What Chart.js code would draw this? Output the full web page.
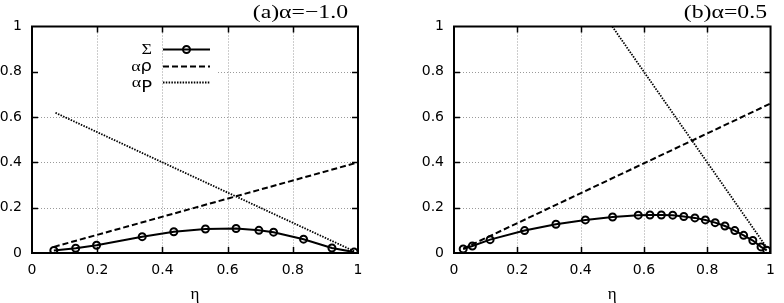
<!DOCTYPE html>
<html>
<head>
<meta charset="utf-8">
<script src="https://cdn.jsdelivr.net/npm/chart.js@4.4.1/dist/chart.umd.min.js"></script>
<style>
html, body { margin: 0; padding: 0; background: #fff; }
#wrap { position: relative; width: 784px; height: 303px; }
.box { position: absolute; top: 0; width: 392px; height: 303px; }
</style>
</head>
<body>
<div id="wrap">
  <div class="box" style="left:0"><canvas id="chartA" width="392" height="303"></canvas></div>
  <div class="box" style="left:392px"><canvas id="chartB" width="392" height="303"></canvas></div>
</div>
<script>
const xTicks = [0, 0.2, 0.4, 0.6, 0.8, 1];
const xTickLabels = ['0', '0.2', '0.4', '0.6', '0.8', '1'];
const yTicks = [0, 0.2, 0.4, 0.6, 0.8, 1];
const yTickLabels = ['0', '0.2', '0.4', '0.6', '0.8', '1'];

// (a) alpha = -1.0
const etaA = [0.067, 0.134, 0.198, 0.338, 0.435, 0.532, 0.626, 0.696, 0.741, 0.833, 0.920, 0.988];
const sigmaA = [0.011, 0.021, 0.034, 0.072, 0.094, 0.106, 0.108, 0.100, 0.092, 0.061, 0.022, 0.004];
const rhoEtaA = [0.067, 1];
const rhoA = [0.027, 0.40];
const pEtaA = [0.072, 0.988];
const pA = [0.619, 0.008];

// (b) alpha = 0.5
const etaB = [0.029, 0.058, 0.114, 0.223, 0.322, 0.415, 0.501, 0.582, 0.619, 0.655, 0.691,
              0.726, 0.761, 0.794, 0.825, 0.856, 0.887, 0.915, 0.944, 0.970, 0.988];
const sigmaB = [0.018, 0.031, 0.059, 0.099, 0.127, 0.146, 0.159, 0.167, 0.168, 0.168, 0.167,
                0.161, 0.155, 0.146, 0.134, 0.119, 0.099, 0.078, 0.055, 0.027, 0.012];
const rhoEtaB = [0.029, 1];
const rhoB = [0.019, 0.66];
const pEtaB = [0.5, 0.99];
const pB = [1.0, 0.02];

const seriesNames = ['Σ', 'αρ', 'αP'];
const SERIF = '"Liberation Serif", "DejaVu Serif", serif';
const SANS = '"DejaVu Sans", "Liberation Sans", sans-serif';

// legend text pieces: [text, font, lowered]
const keyParts = [
  [['Σ', SERIF, 0]],
  [['α', SERIF, 0], ['ρ', SANS, 0]],
  [['α', SERIF, 0], ['P', SANS, 4.5]]
];

function pts(xs, ys) {
  return xs.map((v, i) => ({ x: v, y: ys[i] }));
}

const framePlugin = {
  id: 'frame',
  beforeDatasetsDraw(chart, args, opts) {
    const { ctx, chartArea: a, scales: { x, y } } = chart;
    ctx.save();
    ctx.strokeStyle = '#9a9a9a';
    ctx.lineWidth = 1;
    ctx.setLineDash([1, 2]);
    xTicks.slice(1, -1).forEach(v => {
      const px = Math.round(x.getPixelForValue(v)) + 0.5;
      ctx.beginPath(); ctx.moveTo(px, a.top); ctx.lineTo(px, a.bottom); ctx.stroke();
    });
    yTicks.slice(1, -1).forEach(v => {
      const py = Math.round(y.getPixelForValue(v)) + 0.5;
      let x0 = a.left;
      if (opts.keyBox && py > opts.keyBox.top && py < opts.keyBox.bottom) x0 = opts.keyBox.right;
      ctx.beginPath(); ctx.moveTo(x0, py); ctx.lineTo(a.right, py); ctx.stroke();
    });
    ctx.restore();
  },
  afterDatasetsDraw(chart, args, opts) {
    const { ctx, chartArea: a, scales: { x, y } } = chart;
    ctx.save();
    ctx.strokeStyle = '#000';
    ctx.setLineDash([]);
    // inward ticks on all four sides
    ctx.lineWidth = 1.5;
    const tl = 6;
    xTicks.slice(1, -1).forEach(v => {
      const px = Math.round(x.getPixelForValue(v)) + 0.5;
      ctx.beginPath();
      ctx.moveTo(px, a.bottom); ctx.lineTo(px, a.bottom - tl);
      ctx.moveTo(px, a.top); ctx.lineTo(px, a.top + tl);
      ctx.stroke();
    });
    yTicks.slice(1, -1).forEach(v => {
      const py = Math.round(y.getPixelForValue(v)) + 0.5;
      ctx.beginPath();
      ctx.moveTo(a.left, py); ctx.lineTo(a.left + tl, py);
      ctx.moveTo(a.right, py); ctx.lineTo(a.right - tl, py);
      ctx.stroke();
    });
    // border
    ctx.lineWidth = 2;
    ctx.strokeRect(a.left, a.top, a.right - a.left, a.bottom - a.top);

    // title
    ctx.fillStyle = '#000';
    ctx.font = '19px ' + SERIF;
    ctx.textAlign = 'right';
    ctx.textBaseline = 'alphabetic';
    ctx.save();
    ctx.translate(opts.titleRight, opts.titleBase);
    ctx.scale(1.25, 1);
    ctx.fillText(opts.title, 0, 0);
    ctx.restore();

    // key
    if (opts.key) {
      const k = opts.key;
      chart.data.datasets.forEach((ds, i) => {
        const ry = k.rows[i];
        const parts = keyParts[i];
        const sx = 1.2;
        let w = 0;
        parts.forEach(p => { ctx.font = '15px ' + p[1]; w += ctx.measureText(p[0]).width * sx; });
        let cx = k.textRight - w;
        ctx.textAlign = 'left';
        parts.forEach(p => {
          ctx.font = '15px ' + p[1];
          ctx.save();
          ctx.translate(cx, ry + 5 + p[2]);
          ctx.scale(sx, 1);
          ctx.fillText(p[0], 0, 0);
          ctx.restore();
          cx += ctx.measureText(p[0]).width * sx;
        });
        // sample
        ctx.strokeStyle = ds.borderColor;
        ctx.lineWidth = ds.borderWidth;
        ctx.setLineDash(ds.borderDash || []);
        ctx.beginPath(); ctx.moveTo(k.lineLeft, ry + 0.5); ctx.lineTo(k.lineRight, ry + 0.5); ctx.stroke();
        ctx.setLineDash([]);
        if (ds.pointRadius > 0) {
          ctx.lineWidth = ds.pointBorderWidth;
          ctx.beginPath();
          ctx.arc((k.lineLeft + k.lineRight) / 2, ry + 0.5, ds.pointRadius, 0, Math.PI * 2);
          ctx.stroke();
        }
      });
    }
    ctx.restore();
  }
};

function makeChart(id, eta, sigma, rhoEta, rho, pEta, p, yAxisWidth, padRight, frameOpts) {
  return new Chart(document.getElementById(id), {
    type: 'line',
    data: {
      datasets: [
        {
          label: seriesNames[0], data: pts(eta, sigma),
          borderColor: '#000', borderWidth: 2, tension: 0,
          pointRadius: 3.5, pointBorderWidth: 2, pointBorderColor: '#000',
          pointBackgroundColor: 'rgba(0,0,0,0)'
        },
        {
          label: seriesNames[1], data: pts(rhoEta, rho),
          borderColor: '#000', borderWidth: 2, borderDash: [6, 3], pointRadius: 0
        },
        {
          label: seriesNames[2], data: pts(pEta, p),
          borderColor: '#000', borderWidth: 1.8, borderDash: [1.5, 1.3], pointRadius: 0
        }
      ]
    },
    options: {
      responsive: false,
      devicePixelRatio: 1,
      animation: false,
      layout: { autoPadding: false, padding: { left: 0, right: padRight, top: 26.5, bottom: 0 } },
      plugins: {
        legend: { display: false },
        tooltip: { enabled: false },
        frame: frameOpts
      },
      scales: {
        x: {
          type: 'linear', min: 0, max: 1,
          afterBuildTicks: s => { s.ticks = xTicks.map(v => ({ value: v })); },
          afterFit: s => { s.height = 50; },
          ticks: {
            callback: (v, i) => xTickLabels[i],
            font: { family: SANS, size: 14 }, color: '#000',
            padding: 9, maxRotation: 0, autoSkip: false
          },
          grid: { display: false, drawTicks: false },
          border: { display: false },
          title: {
            display: true, text: 'η', color: '#000',
            font: { family: SERIF, size: 17, lineHeight: 1 },
            padding: { top: 0, bottom: 0 }
          }
        },
        y: {
          type: 'linear', min: 0, max: 1,
          afterBuildTicks: s => { s.ticks = yTicks.map(v => ({ value: v })); },
          afterFit: s => { s.width = yAxisWidth; },
          ticks: {
            callback: (v, i) => yTickLabels[i],
            font: { family: SANS, size: 14 }, color: '#000',
            padding: 10, autoSkip: false
          },
          grid: { display: false, drawTicks: false },
          border: { display: false }
        }
      }
    },
    plugins: [framePlugin]
  });
}

makeChart('chartA', etaA, sigmaA, rhoEtaA, rhoA, pEtaA, pA, 32, 34, {
  title: '(a)α=−1.0', titleRight: 348, titleBase: 18,
  keyBox: { top: 35, bottom: 90, right: 218 },
  key: { textRight: 152, lineLeft: 163, lineRight: 210, rows: [49, 66, 82] }
});
makeChart('chartB', etaB, sigmaB, rhoEtaB, rhoB, pEtaB, pB, 62, 4, {
  title: '(b)α=0.5', titleRight: 375, titleBase: 18
});
</script>
</body>
</html>
